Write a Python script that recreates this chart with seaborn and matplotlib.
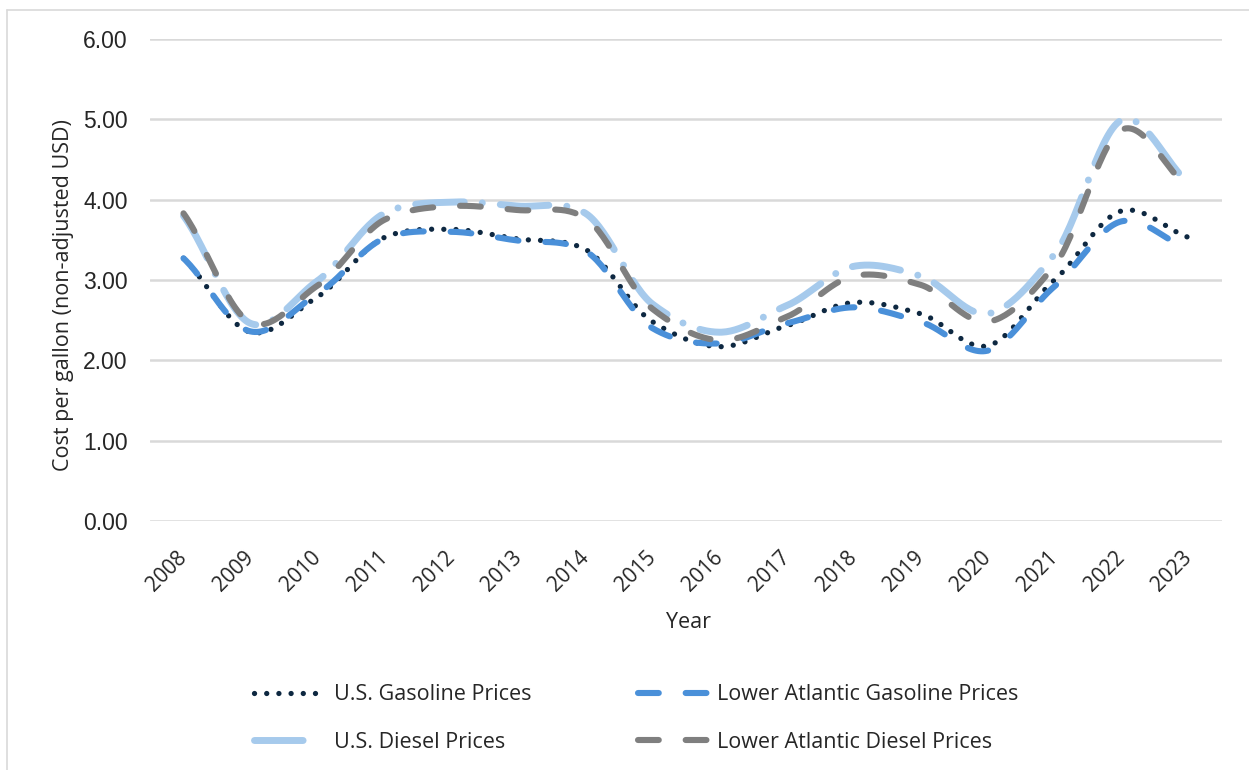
import numpy as np
import pandas as pd
import matplotlib
matplotlib.use("Agg")
import matplotlib.pyplot as plt
from matplotlib.lines import Line2D
import seaborn as sns

years = ["2008", "2009", "2010", "2011", "2012", "2013", "2014", "2015",
         "2016", "2017", "2018", "2019", "2020", "2021", "2022", "2023"]
us_gasoline = [3.27, 2.35, 2.79, 3.53, 3.63, 3.51, 3.38, 2.48, 2.17, 2.43, 2.72, 2.58, 2.18, 3.00, 3.86, 3.53]
la_gasoline = [3.27, 2.36, 2.83, 3.52, 3.60, 3.49, 3.36, 2.40, 2.21, 2.46, 2.66, 2.48, 2.12, 2.92, 3.73, 3.38]
us_diesel = [3.80, 2.46, 2.99, 3.83, 3.97, 3.92, 3.83, 2.70, 2.35, 2.68, 3.17, 3.05, 2.58, 3.32, 4.99, 4.21]
la_diesel = [3.83, 2.47, 2.93, 3.75, 3.92, 3.87, 3.77, 2.64, 2.25, 2.54, 3.05, 2.94, 2.48, 3.18, 4.87, 4.15]
series_names = ["U.S. Gasoline Prices", "Lower Atlantic Gasoline Prices",
                "U.S. Diesel Prices", "Lower Atlantic Diesel Prices"]
y_ticks = [0, 1, 2, 3, 4, 5, 6]

colors = ["#0E2841", "#4A90D9", "#A6CAEC", "#7F7F7F"]
widths = [3.8, 4.4, 5.0, 4.4]
dash_styles = [(0.01, 2.3), (3.4, 4.4), (7.0, 2.6, 0.01, 2.6), (3.4, 4.4)]
legend_dashes = [(0.01, 2.3), (3.4, 4.4), (7.0, 20.0), (3.4, 4.4)]


def smooth(vals, n=30, k=0.85):
    """Excel-like smoothed line drawn through the readings."""
    p = np.asarray(vals, float)
    pts = np.concatenate([[2 * p[0] - p[1]], p, [2 * p[-1] - p[-2]]])
    xs, ys = [], []
    for i in range(len(p) - 1):
        p0, p1, p2, p3 = pts[i], pts[i + 1], pts[i + 2], pts[i + 3]
        m1 = k * (p2 - p0) / 2
        m2 = k * (p3 - p1) / 2
        t = np.linspace(0, 1, n, endpoint=False)
        h00 = 2 * t ** 3 - 3 * t ** 2 + 1
        h10 = t ** 3 - 2 * t ** 2 + t
        h01 = -2 * t ** 3 + 3 * t ** 2
        h11 = t ** 3 - t ** 2
        y = h00 * p1 + h10 * m1 + h01 * p2 + h11 * m2
        xs.extend(i + t)
        ys.extend(y)
    xs.append(len(p) - 1)
    ys.append(p[-1])
    return np.array(xs), np.array(ys)


sns.set_theme(style="white")
plt.rcParams["font.family"] = ["Open Sans", "DejaVu Sans"]

fig = plt.figure(figsize=(12.49, 7.70), dpi=100)
W, H = 1249, 770
ax = fig.add_axes([150 / W, 1 - 521 / H, (1222 - 150) / W, (521 - 39) / H])

all_series = [us_gasoline, la_gasoline, us_diesel, la_diesel]
handles = []
for name, vals, c, lw, ds, lds in zip(series_names, all_series, colors, widths,
                                      dash_styles, legend_dashes):
    xs, ys = smooth(vals)
    df = pd.DataFrame({"x": xs, "y": ys})
    sns.lineplot(data=df, x="x", y="y", ax=ax, color=c, linewidth=lw, sort=False,
                 estimator=None)
    ln = ax.lines[-1]
    ln.set_dashes(ds)
    ln.set_dash_capstyle("round")
    ln.set_solid_capstyle("round")
    h = Line2D([], [], color=c, linewidth=lw, dashes=lds, dash_capstyle="round",
               solid_capstyle="round")
    handles.append(h)

ax.set_xlim(-0.5, len(years) - 0.5)
ax.set_ylim(0, 6)
ax.set_yticks(y_ticks)
ax.set_yticklabels([f"{v:.2f}" for v in y_ticks], fontsize=16.5,
                   family=["Liberation Sans", "DejaVu Sans"], color="#262626")
ax.set_xticks(range(len(years)))
ax.set_xticklabels(years, rotation=45, ha="right", va="center", rotation_mode="anchor",
                   fontsize=15, color="#262626")
ax.tick_params(axis="x", length=0, pad=24)
ax.tick_params(axis="y", length=0, pad=16)
ax.grid(axis="y", color="#D9D9D9", linewidth=1.8)
ax.grid(axis="x", visible=False)
ax.set_axisbelow(True)
for s in ax.spines.values():
    s.set_visible(False)

ax.set_xlabel("Year", fontsize=15.5, color="#262626")
ax.set_ylabel("Cost per gallon (non-adjusted USD)", fontsize=15.5, color="#262626")
ax.xaxis.set_label_coords((688 - 150) / 1072, (521 - 612) / 482)
ax.yaxis.set_label_coords((74 - 150) / 1072, (521 - 295) / 482)

order = [0, 2, 1, 3]
leg = fig.legend([handles[i] for i in order], [series_names[i] for i in order],
                 ncol=2, loc="center left", bbox_to_anchor=(254 / W, 1 - 718.5 / H),
                 frameon=False, fontsize=15.5, handlelength=3.4, handletextpad=0.3,
                 columnspacing=4.95, labelspacing=1.25, borderpad=0, borderaxespad=0)
for t in leg.get_texts():
    t.set_color("#262626")

# chart-area frame (left and top edges visible)
fig.add_artist(Line2D([7 / W, 7 / W], [0, 1 - 10 / H], transform=fig.transFigure,
                      color="#D9D9D9", linewidth=1.2))
fig.add_artist(Line2D([7 / W, 1], [1 - 10 / H, 1 - 10 / H], transform=fig.transFigure,
                      color="#D9D9D9", linewidth=1.2))

fig.savefig("out.png", dpi=100, facecolor="white")
